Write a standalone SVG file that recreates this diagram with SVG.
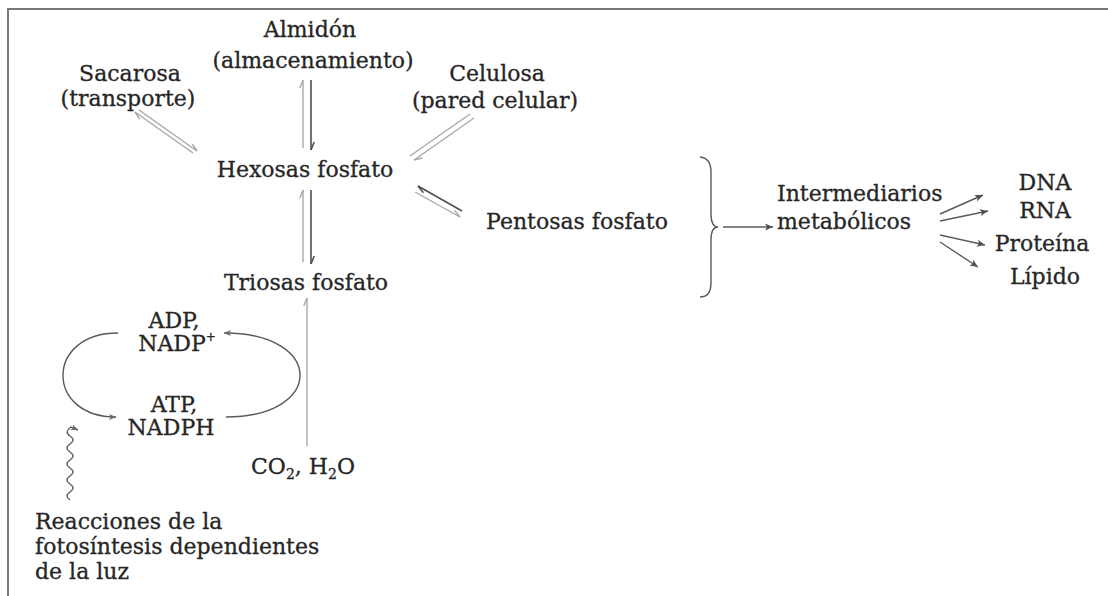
<svg xmlns="http://www.w3.org/2000/svg" width="1108" height="596" viewBox="0 0 1108 596">
<style>
text{font-family:"DejaVu Serif","Liberation Serif",serif;font-size:22px;fill:#262626;stroke:#262626;stroke-width:0.3}
.m{text-anchor:middle}
.lt{stroke:#a8a8a8;stroke-width:1.4;fill:none}
.dk{stroke:#505050;stroke-width:1.6;fill:none}
.ln{stroke:#5a5a5a;stroke-width:1.4;fill:none}
</style>
<defs>
<marker id="hd" viewBox="-10 -6 12 12" refX="0" refY="0" markerWidth="12" markerHeight="12" markerUnits="userSpaceOnUse" orient="auto"><path d="M0,0 L-8,-3.2" stroke="#505050" stroke-width="1.6" fill="none"/></marker>
<marker id="hl" viewBox="-10 -6 12 12" refX="0" refY="0" markerWidth="12" markerHeight="12" markerUnits="userSpaceOnUse" orient="auto"><path d="M0,0 L-8,-3.2" stroke="#a8a8a8" stroke-width="1.4" fill="none"/></marker>
<marker id="ar" viewBox="-10 -5 12 10" refX="0" refY="0" markerWidth="12" markerHeight="10" markerUnits="userSpaceOnUse" orient="auto"><path d="M0,0 L-8,-3.5 L-6,0 L-8,3.5 Z" fill="#505050"/></marker>
<marker id="al" viewBox="-10 -5 12 10" refX="0" refY="0" markerWidth="12" markerHeight="10" markerUnits="userSpaceOnUse" orient="auto"><path d="M0,0 L-7,-3 L-5,0 L-7,3 Z" fill="#666"/></marker>
</defs>
<rect width="1108" height="596" fill="#fff"/>
<path d="M8,596 V9 H1108" stroke="#777" stroke-width="2" fill="none"/>

<g id="connectors">
<line class="lt" x1="303" y1="148" x2="303" y2="80" marker-end="url(#hl)"/>
<line class="dk" x1="311" y1="80" x2="311" y2="150" marker-end="url(#hd)"/>
<line class="lt" x1="303" y1="262" x2="303" y2="190" marker-end="url(#hl)"/>
<line class="dk" x1="311" y1="190" x2="311" y2="264" marker-end="url(#hd)"/>
<line class="lt" x1="193" y1="153" x2="135" y2="112" marker-end="url(#hl)"/>
<line class="lt" x1="139" y1="110" x2="197" y2="151" marker-end="url(#hl)"/>
<line class="lt" x1="474" y1="118" x2="414" y2="160" marker-end="url(#hl)"/>
<line class="lt" x1="410" y1="156" x2="470" y2="114"/>
<line class="dk" x1="462" y1="211" x2="418" y2="186" marker-end="url(#hd)"/>
<line class="lt" x1="415" y1="192" x2="460" y2="217" marker-end="url(#hl)"/>
<line class="lt" x1="307" y1="446" x2="307" y2="298" marker-end="url(#hl)"/>
<path class="ln" d="M118,333 C45,333 45,417 116,417" marker-end="url(#al)"/>
<path class="ln" d="M226,417 C325,417 325,333 224,333" marker-end="url(#al)"/>
<path class="ln" d="M70,500 q-6,-4 0,-8 q6,-4 0,-8 q-6,-4 0,-8 q6,-4 0,-8 q-6,-4 0,-8 q6,-4 0,-8 q-6,-4 0,-8 q6,-4 0,-8 q-6,-4 1,-9 L78,430" marker-end="url(#al)"/>
<path class="ln" d="M700,157 Q711,158 711,172 L711,214 Q711,227 718,227 Q711,227 711,240 L711,283 Q711,297 700,297"/>
<line class="ln" x1="723" y1="227" x2="773" y2="227" marker-end="url(#ar)"/>
<line class="ln" x1="940" y1="214" x2="983" y2="195" marker-end="url(#ar)"/>
<line class="ln" x1="940" y1="221" x2="988" y2="211" marker-end="url(#ar)"/>
<line class="ln" x1="940" y1="235" x2="985" y2="245" marker-end="url(#ar)"/>
<line class="ln" x1="940" y1="242" x2="978" y2="267" marker-end="url(#ar)"/>
</g>

<g id="almidon"><text class="m" x="310" y="37">Almidón</text><text class="m" x="313" y="68">(almacenamiento)</text></g>
<g id="sacarosa"><text class="m" x="130" y="81">Sacarosa</text><text class="m" x="128" y="106">(transporte)</text></g>
<g id="celulosa"><text class="m" x="497" y="81">Celulosa</text><text class="m" x="495" y="108">(pared celular)</text></g>
<g id="hexosas"><text class="m" x="305" y="177">Hexosas fosfato</text></g>
<g id="pentosas"><text class="m" x="577" y="229">Pentosas fosfato</text></g>
<g id="triosas"><text class="m" x="306" y="290">Triosas fosfato</text></g>
<g id="adp"><text class="m" x="174" y="328">ADP,</text><text class="m" x="177" y="351">NADP<tspan font-size="12" dy="-10">+</tspan></text></g>
<g id="atp"><text class="m" x="174" y="412">ATP,</text><text class="m" x="171" y="435">NADPH</text></g>
<g id="co2"><text x="251" y="474">CO<tspan font-size="14" dy="5">2</tspan><tspan dy="-5">, H</tspan><tspan font-size="14" dy="5">2</tspan><tspan dy="-5">O</tspan></text></g>
<g id="luz"><text x="35" y="529">Reacciones de la</text><text x="35" y="554">fotosíntesis dependientes</text><text x="35" y="579">de la luz</text></g>
<g id="intermediarios"><text x="777" y="201">Intermediarios</text><text x="777" y="229">metabólicos</text></g>
<g id="productos"><text class="m" x="1045" y="190">DNA</text><text class="m" x="1045" y="218">RNA</text><text class="m" x="1042" y="251">Proteína</text><text class="m" x="1045" y="284">Lípido</text></g>
</svg>
